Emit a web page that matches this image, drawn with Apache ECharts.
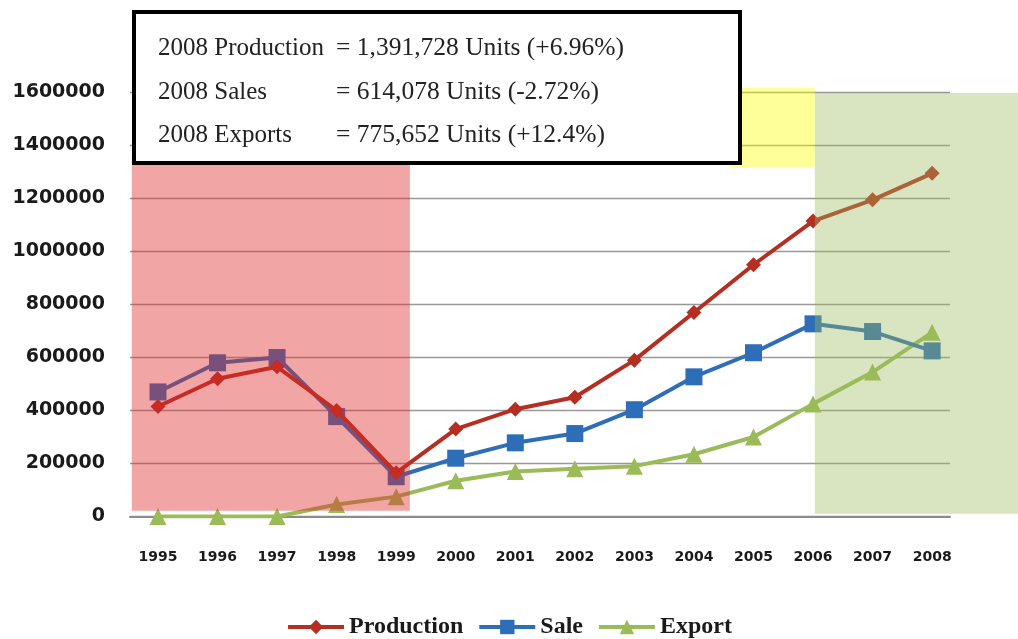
<!DOCTYPE html>
<html>
<head>
<meta charset="utf-8">
<script src="https://cdn.jsdelivr.net/npm/echarts@6/dist/echarts.min.js"></script>
<style>html,body{margin:0;padding:0;background:#fff}#c{width:1018px;height:639px}</style>
</head>
<body>
<div id="c"></div>
<script>
const years = [1995,1996,1997,1998,1999,2000,2001,2002,2003,2004,2005,2006,2007,2008];
const production = [415000,520000,565000,400000,165000,330000,405000,450000,590000,770000,950000,1115000,1195000,1295000];
const sale = [470000,580000,600000,377000,150000,220000,278000,313000,403000,527000,618000,727000,698000,625000];
const exportVals = [0,0,0,45000,75000,135000,170000,180000,190000,235000,300000,425000,545000,695000];
const yTicks = [0,200000,400000,600000,800000,1000000,1200000,1400000,1600000];
const noteLabels = ['2008 Production','2008 Sales','2008 Exports'];
const noteValues = ['= 1,391,728 Units (+6.96%)','= 614,078 Units (-2.72%)','= 775,652 Units (+12.4%)'];
// shaded periods, in data units: [x0, x1, y0, y1]
const redPeriod = [1994.56, 1999.23, 22000, 1360000];
const yellowPeriod = [2004.6, 2006.03, 1318000, 1617000];
const greenPeriod = [2006.03, 2009.6, 10000, 1598000];

const chart = echarts.init(document.getElementById('c'));
const pair = arr => years.map((y,i)=>[y, arr[i]]);
chart.setOption({
  animation:false,
  grid:{left:130,right:68,top:92.5,bottom:122.5},
  xAxis:{type:'value',min:1994.53,max:2008.30,
    axisLine:{show:true,lineStyle:{color:'#8c8c8c',width:2}},
    axisTick:{show:false},splitLine:{show:false},
    axisLabel:{customValues:years,margin:34,color:'#1a1a1a',fontFamily:'DejaVu Sans',fontWeight:'bold',fontSize:14,formatter:v=>String(Math.round(v))}},
  yAxis:{type:'value',min:0,max:1600000,interval:200000,
    axisLine:{show:false},axisTick:{show:false},
    splitLine:{lineStyle:{color:'#999',width:1.3}},
    axisLabel:{margin:25,color:'#1a1a1a',fontFamily:'DejaVu Sans',fontWeight:'bold',fontSize:19,formatter:v=>String(v)}},
  legend:{top:610,left:'center',itemWidth:56,itemHeight:18,itemGap:14,
    lineStyle:{width:4},
    textStyle:{fontFamily:'Liberation Serif',fontWeight:'bold',fontSize:24,color:'#1a1a1a'},
    data:['Production','Sale','Export']},
  series:[
    {name:'Production',type:'line',data:pair(production),symbol:'diamond',symbolSize:15,
      lineStyle:{color:'#B52E22',width:4},itemStyle:{color:'#B52E22'},z:4},
    {name:'Sale',type:'line',data:pair(sale),symbol:'rect',symbolSize:17,
      lineStyle:{color:'#2E6DB8',width:4},itemStyle:{color:'#2E6DB8'},z:3},
    {name:'Export',type:'line',data:pair(exportVals),symbol:'triangle',symbolSize:17,
      lineStyle:{color:'#9BBB59',width:4},itemStyle:{color:'#9BBB59'},z:2}
  ]
});

function rectOf(p, color, id){
  const a = chart.convertToPixel({gridIndex:0},[p[0],p[3]]);
  const b = chart.convertToPixel({gridIndex:0},[p[1],p[2]]);
  return {type:'rect',id:id,z:50,shape:{x:a[0],y:a[1],width:b[0]-a[0],height:b[1]-a[1]},style:{fill:color}};
}
const g = [
  rectOf(redPeriod,'rgba(222,40,40,0.42)','red'),
  rectOf(yellowPeriod,'rgba(255,255,0,0.40)','yellow'),
  rectOf(greenPeriod,'rgba(155,187,89,0.38)','green'),
  {type:'rect',id:'box',z:60,shape:{x:134,y:12,width:606,height:151},style:{fill:'#fff',stroke:'#000',lineWidth:4}}
];
const lineY = [48,92,135];
noteLabels.forEach((t,i)=>{
  g.push({type:'text',z:61,x:158,y:lineY[i],style:{text:t,fontFamily:'Liberation Serif',fontSize:25,fill:'#222',verticalAlign:'middle'}});
  g.push({type:'text',z:61,x:336,y:lineY[i],style:{text:noteValues[i],fontFamily:'Liberation Serif',fontSize:25.5,fill:'#222',verticalAlign:'middle'}});
});
chart.setOption({graphic:g});
</script>
</body>
</html>
